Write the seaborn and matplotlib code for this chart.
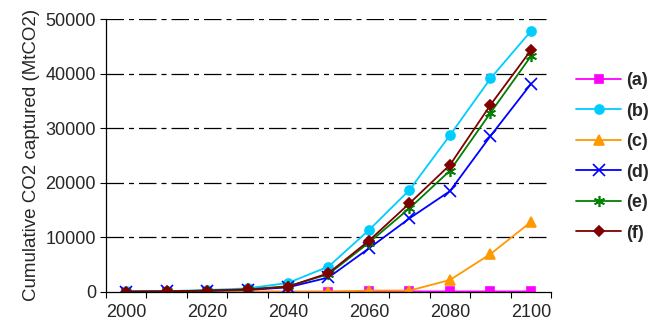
import matplotlib
matplotlib.use("Agg")
import matplotlib.pyplot as plt
import seaborn as sns
import pandas as pd
from matplotlib.ticker import FixedLocator

years = [2000, 2010, 2020, 2030, 2040, 2050, 2060, 2070, 2080, 2090, 2100]
series_a = [0, 0, 0, 0, 0, 0, 50, 50, 50, 50, 50]
series_b = [50, 100, 300, 600, 1600, 4600, 11300, 18650, 28700, 39100, 47800]
series_c = [0, 0, 0, 0, 0, 0, 200, 200, 2150, 6900, 12800]
series_d = [0, 50, 150, 300, 800, 2600, 7950, 13450, 18450, 28550, 38100]
series_e = [0, 50, 200, 400, 1000, 3200, 9000, 15300, 22200, 32800, 43200]
series_f = [0, 50, 200, 400, 900, 3400, 9350, 16200, 23250, 34250, 44300]
labels = ["(a)", "(b)", "(c)", "(d)", "(e)", "(f)"]
year_ticks = [2000, 2020, 2040, 2060, 2080, 2100]

colors = ["#FF00FF", "#00CCFF", "#FF9900", "#0000FF", "#008000", "#800000"]
markers = ["s", "o", "^", "x", (6, 2, 0), "D"]
msizes = [5.5, 6.5, 7.5, 8, 8, 5.5]

sns.set_style("white")
plt.rcParams["font.family"] = ["Liberation Sans", "DejaVu Sans"]

fig = plt.figure(figsize=(6.57, 3.23), dpi=100)
ax = fig.add_axes([0.161, 0.097, 0.678, 0.844])

for vals, lab, col, mk, ms in zip(
    [series_a, series_b, series_c, series_d, series_e, series_f],
    labels, colors, markers, msizes):
    df = pd.DataFrame({"year": years, "value": vals})
    sns.lineplot(data=df, x="year", y="value", ax=ax, color=col, marker=mk,
                 markersize=ms, markeredgecolor=col, markeredgewidth=1.2,
                 linewidth=1.3, label=lab)

ax.set_xlim(1995, 2105)
ax.set_ylim(0, 50000)
ax.set_xticks(year_ticks)
ax.set_xticklabels([str(y) for y in year_ticks])
ax.xaxis.set_minor_locator(FixedLocator(list(range(1995, 2106, 10))))
ax.tick_params(axis="x", which="major", length=0, labelsize=13, pad=9)
ax.tick_params(axis="x", which="minor", length=4, width=0.8, color="black",
               direction="out", bottom=True)
ax.set_yticks([0, 10000, 20000, 30000, 40000, 50000])
ax.tick_params(axis="y", which="major", length=4, width=0.8, color="black",
               direction="out", left=True, labelsize=13, pad=3)

for yv in [10000, 20000, 30000, 40000, 50000]:
    ax.axhline(yv, color="black", linewidth=0.9, dashes=(14, 4, 4, 4), zorder=0)

for side in ["top", "right"]:
    ax.spines[side].set_visible(False)
for side in ["left", "bottom"]:
    ax.spines[side].set_color("black")
    ax.spines[side].set_linewidth(0.9)

ax.set_xlabel("")
ax.set_ylabel("Cumulative CO2 captured (MtCO2)", fontsize=13.5, labelpad=4)

leg = ax.legend(loc="upper left", bbox_to_anchor=(1.019, 0.865), frameon=False,
                handlelength=2.5, handletextpad=0.3, labelspacing=0.75,
                prop={"weight": "bold", "size": 13})

fig.savefig("out.png", dpi=100)
